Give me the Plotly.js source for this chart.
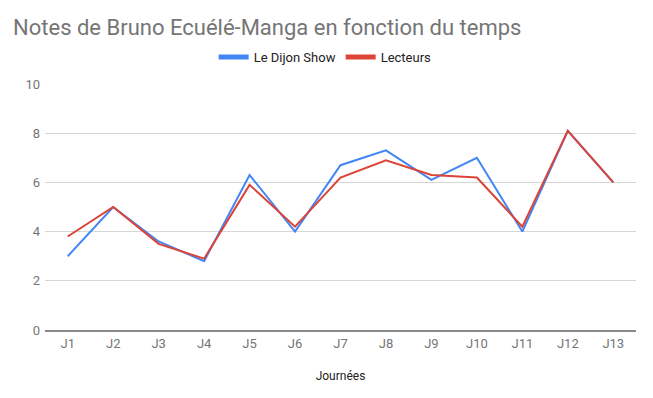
<!DOCTYPE html>
<html><head><meta charset="utf-8">
<script src="https://cdn.plot.ly/plotly-3.0.1.min.js"></script>
<style>html,body{margin:0;padding:0;background:#fff}#c{width:653px;height:398px}</style>
</head><body><div id="c"></div>
<script>
const journees = ['J1','J2','J3','J4','J5','J6','J7','J8','J9','J10','J11','J12','J13'];
const dijonShow = [3.0, 5.0, 3.6, 2.8, 6.3, 4.0, 6.7, 7.3, 6.1, 7.0, 4.0, 8.1, 6.0];
const lecteurs = [3.8, 5.0, 3.5, 2.9, 5.9, 4.2, 6.2, 6.9, 6.3, 6.2, 4.2, 8.1, 6.0];
const seriesNames = ['Le Dijon Show', 'Lecteurs'];
const yTicks = [0, 2, 4, 6, 8, 10];

const F = 'Roboto, Arial, sans-serif';
const colors = ['#4285F4', '#DB4437'];
const traces = [
  {x: journees, y: dijonShow, name: seriesNames[0], type: 'scatter', mode: 'lines',
   line: {color: colors[0], width: 2}, showlegend: false},
  {x: journees, y: lecteurs, name: seriesNames[1], type: 'scatter', mode: 'lines',
   line: {color: colors[1], width: 2}, showlegend: false},
  {x: [null], y: [null], name: seriesNames[0], type: 'scatter', mode: 'lines',
   line: {color: colors[0], width: 5}},
  {x: [null], y: [null], name: seriesNames[1], type: 'scatter', mode: 'lines',
   line: {color: colors[1], width: 5}}
];
const layout = {
  width: 653, height: 398,
  margin: {l: 45, r: 17, t: 84, b: 68, autoexpand: false},
  paper_bgcolor: '#fff', plot_bgcolor: '#fff',
  font: {family: F, color: '#757575', size: 13},
  title: {text: 'Notes de Bruno Ecuélé-Manga en fonction du temps',
    font: {family: F, size: 22, color: '#757575'},
    x: 0.02, xanchor: 'left', xref: 'container', y: 0.932, yanchor: 'middle', yref: 'container'},
  showlegend: true,
  legend: {orientation: 'h', x: 0.474, xanchor: 'center', y: 1.11, yanchor: 'middle',
    font: {family: F, size: 13, color: '#222'}, itemwidth: 30},
  xaxis: {type: 'category', range: [-0.5, 12.5], showgrid: false, zeroline: false,
    showline: true, linecolor: '#8a8a8a', linewidth: 2, ticks: '', tickangle: 0,
    tickfont: {family: F, size: 13, color: '#757575'},
    title: {text: 'Journées', font: {family: F, size: 12, color: '#222'}, standoff: 22}},
  yaxis: {range: [0, 10], tickvals: yTicks, showgrid: true, gridcolor: '#d6d6d6', gridwidth: 1,
    zeroline: false, showline: false, ticks: '', ticklabelstandoff: 4,
    tickfont: {family: F, size: 13, color: '#757575'}},
  hovermode: false
};
Plotly.newPlot('c', traces, layout, {displayModeBar: false, staticPlot: true});
</script></body></html>
